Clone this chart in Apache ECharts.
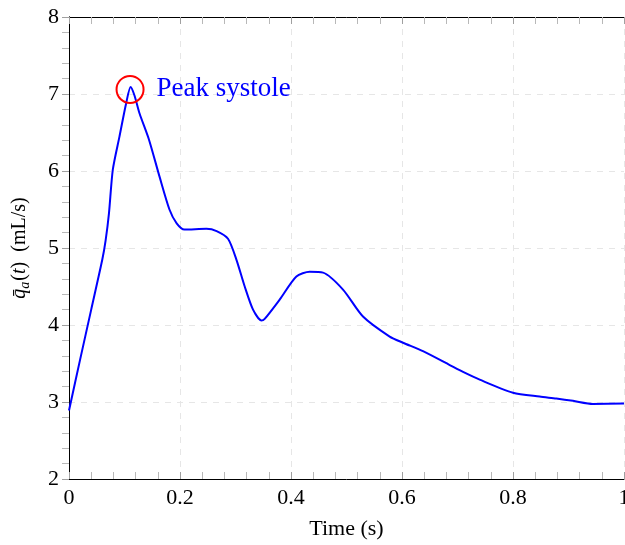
<!DOCTYPE html>
<html>
<head>
<meta charset="utf-8">
<script src="https://cdn.jsdelivr.net/npm/echarts@6/dist/echarts.min.js"></script>
<style>html,body{margin:0;padding:0;background:#fff;}#c{width:625px;height:545px;}</style>
</head>
<body>
<div id="c"></div>
<script>
const timeS = [0, 0.02, 0.04, 0.06, 0.066, 0.072, 0.079, 0.091, 0.103, 0.111, 0.118, 0.127, 0.144, 0.163, 0.181, 0.194, 0.208, 0.2476, 0.266, 0.2865, 0.3016, 0.3166, 0.3316, 0.3466, 0.3526, 0.3796, 0.4097, 0.4337, 0.4577, 0.4937, 0.5297, 0.5778, 0.6018, 0.6378, 0.686, 0.71, 0.74, 0.80, 0.848, 0.878, 0.908, 0.944, 1.0];
const flow = [2.89, 3.55, 4.2, 4.85, 5.1, 5.45, 6.02, 6.45, 6.88, 7.09, 6.98, 6.75, 6.41, 5.93, 5.50, 5.32, 5.24, 5.25, 5.22, 5.12, 4.85, 4.50, 4.20, 4.06, 4.08, 4.33, 4.63, 4.69, 4.68, 4.46, 4.11, 3.85, 3.77, 3.66, 3.48, 3.39, 3.29, 3.12, 3.07, 3.045, 3.015, 2.975, 2.98];
const peakPoint = [0.11, 7.06];
const peakLabel = 'Peak systole';
const xTicks = [0, 0.2, 0.4, 0.6, 0.8, 1];
const yTicks = [2, 3, 4, 5, 6, 7, 8];

const font = 'Liberation Serif';
const tickStyle = { show: true, inside: true, length: 7, lineStyle: { color: '#a0a0a0', width: 1 } };
const leftTickStyle = { show: true, inside: false, length: 7, lineStyle: { color: '#a0a0a0', width: 1 } };
const minorStyle = { show: true, splitNumber: 5, length: 7, lineStyle: { color: '#b8b8b8', width: 1 } };
const splitStyle = { show: true, lineStyle: { color: '#e6e6e6', type: [6, 6], width: 1 } };

const chart = echarts.init(document.getElementById('c'));
chart.setOption({
  animation: false,
  grid: { left: 69, right: 1, top: 17, bottom: 66, containLabel: false, outerBoundsMode: 'none' },
  xAxis: [{
    type: 'value', min: xTicks[0], max: xTicks[xTicks.length - 1], interval: 0.2,
    position: 'bottom',
    axisLine: { show: true, lineStyle: { color: '#000', width: 1 } },
    axisTick: tickStyle, minorTick: minorStyle, splitLine: splitStyle,
    axisLabel: { fontFamily: font, fontSize: 22, color: '#000', margin: 8, showMinLabel: true, showMaxLabel: true },
    name: 'Time (s)', nameLocation: 'middle', nameGap: 39,
    nameTextStyle: { fontFamily: font, fontSize: 22, color: '#000' }
  }, {
    type: 'value', min: xTicks[0], max: xTicks[xTicks.length - 1], interval: 0.2,
    position: 'top',
    axisLine: { show: true, lineStyle: { color: '#000', width: 1 } },
    axisTick: tickStyle, minorTick: minorStyle, splitLine: { show: false },
    axisLabel: { show: false }
  }],
  yAxis: [{
    type: 'value', min: yTicks[0], max: yTicks[yTicks.length - 1], interval: 1,
    position: 'left',
    axisLine: { show: true, lineStyle: { color: '#000', width: 1 } },
    axisTick: leftTickStyle, minorTick: minorStyle, splitLine: splitStyle,
    axisLabel: { fontFamily: font, fontSize: 22, color: '#000', margin: 10, showMinLabel: true, showMaxLabel: true },
    name: '{q|q\u0304}{s|a}{n|(}{q|t}{n|)  (mL/s)}', nameLocation: 'middle', nameGap: 37, nameRotate: 90,
    nameTextStyle: {
      fontFamily: font, fontSize: 20, color: '#000',
      rich: {
        q: { fontFamily: font, fontSize: 20, fontStyle: 'italic', color: '#000', lineHeight: 24, verticalAlign: 'middle' },
        s: { fontFamily: font, fontSize: 14, fontStyle: 'italic', color: '#000', lineHeight: 24, verticalAlign: 'bottom', padding: [9, 1, 0, 0] },
        n: { fontFamily: font, fontSize: 20, color: '#000', lineHeight: 24, verticalAlign: 'middle' }
      }
    }
  }, {
    type: 'value', min: yTicks[0], max: yTicks[yTicks.length - 1], interval: 1,
    position: 'right',
    axisLine: { show: true, lineStyle: { color: '#000', width: 1 } },
    axisTick: tickStyle, minorTick: minorStyle, splitLine: { show: false },
    axisLabel: { show: false }
  }],
  series: [{
    type: 'line', xAxisIndex: 0, yAxisIndex: 0,
    data: timeS.map((t, i) => [t, flow[i]]),
    smooth: 0.25, showSymbol: false, symbol: 'none',
    lineStyle: { color: '#0000ff', width: 2 }
  }, {
    type: 'scatter', xAxisIndex: 0, yAxisIndex: 0,
    data: [peakPoint],
    symbol: 'circle', symbolSize: 27,
    itemStyle: { color: 'rgba(0,0,0,0)', borderColor: '#ff0000', borderWidth: 2, opacity: 1 },
    emphasis: { disabled: true },
    label: { show: true, position: 'right', distance: 12, formatter: peakLabel, fontFamily: font, fontSize: 27, color: '#0000ff' },
    z: 5
  }]
});
</script>
</body>
</html>
